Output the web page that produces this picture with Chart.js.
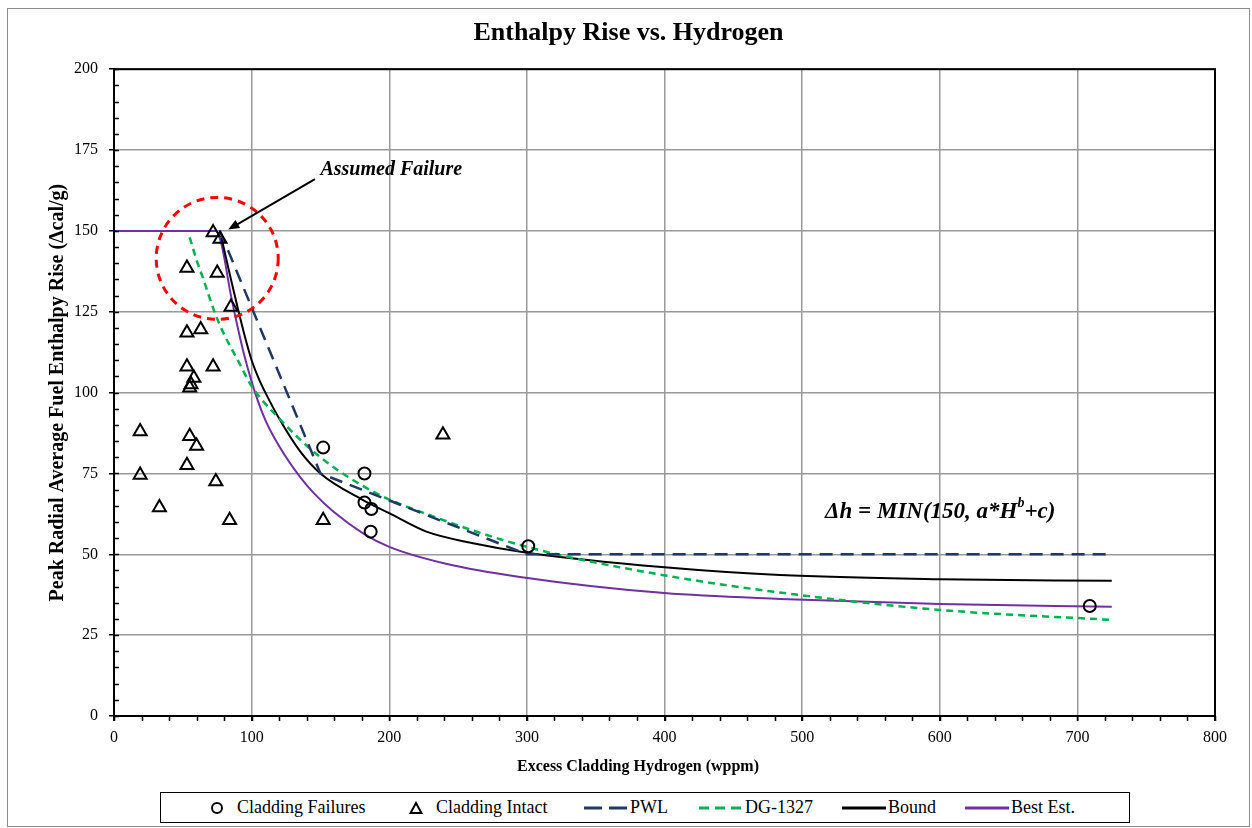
<!DOCTYPE html>
<html>
<head>
<meta charset="utf-8">
<title>Enthalpy Rise vs. Hydrogen</title>
<script src="https://cdn.jsdelivr.net/npm/chart.js@4.4.1/dist/chart.umd.min.js"></script>
<style>
  html, body { margin: 0; padding: 0; background: #fff; }
  #wrap { position: relative; width: 1252px; height: 828px; }
  #frame { position: absolute; left: 7px; top: 8px; width: 1241px; height: 817px; border: 1px solid #8c8c8c; pointer-events: none; }
  #legend { position: absolute; left: 160px; top: 792px; width: 968px; height: 29px; border: 1px solid #000; background: #fff;
            font: 18px 'Liberation Serif', 'Times New Roman', serif; color: #000; }
  #legend .item { position: absolute; top: 0; height: 29px; display: flex; align-items: center; white-space: nowrap; }
</style>
</head>
<body>
<div id="wrap">
  <canvas id="enthalpyChart"></canvas>
  <div id="frame"></div>
  <div id="legend"></div>
</div>
<script>
// Cladding failures (circles)
const failX = [152, 182, 182, 187, 186.5, 301, 709];
const failY = [83, 75, 66, 64, 57, 52.5, 34];

// Cladding intact (triangles)
const intactX = [72, 77, 53, 75, 85, 53, 63, 53, 72, 58, 56, 55, 19, 55, 60, 53, 19, 74, 33, 84, 152, 239];
const intactY = [149.5, 147.5, 138.5, 137, 126.5, 118.5, 119.5, 108, 108, 104.5, 102.5, 101.5, 88, 86.5, 83.5, 77.5, 74.5, 72.5, 64.5, 60.5, 60.5, 87];

// PWL
const pwlX = [77, 150, 300, 725];
const pwlY = [150, 75, 50, 50];

// DG-1327
const dgX = [55, 60, 65, 73, 80, 90, 100, 120, 150, 190, 230, 300, 400, 500, 600, 725];
const dgY = [148, 141, 135, 125, 118, 110, 102, 92, 80, 69, 62, 52.3, 43.5, 37.3, 32.8, 29.7];

// Bound
const boundX = [78, 85, 90, 95, 100, 105, 110, 120, 135, 150, 180, 200, 227, 260, 300, 400, 484, 600, 725];
const boundY = [148, 135, 126, 117.5, 110, 104.5, 100, 92, 82, 75, 67, 62.7, 57, 53.5, 50.5, 46, 43.6, 42.3, 41.8];

// Best estimate
const bestX = [0, 74, 78, 85, 90, 95, 102.5, 110, 120.6, 135, 145, 160, 181, 200, 242, 295, 400, 484, 600, 725];
const bestY = [150, 150, 146, 130, 120, 111, 100, 91.5, 83, 74, 69, 63, 56.5, 52.3, 47, 43, 38, 36.2, 34.6, 33.8];

const xTicks = [0, 100, 200, 300, 400, 500, 600, 700, 800];
const yTicks = [0, 25, 50, 75, 100, 125, 150, 175, 200];

const toPoints = (xs, ys) => xs.map((x, i) => ({ x: x, y: ys[i] }));

const SERIF = "'Liberation Serif', 'Times New Roman', serif";
Chart.defaults.font.family = SERIF;
Chart.defaults.color = '#000';

// minor ticks, plot border, x title and annotations
const extrasPlugin = {
    id: 'extras',
    afterDatasetsDraw(chart) {
        const { ctx, chartArea: a, scales: { x, y } } = chart;
        ctx.save();

        // minor ticks
        ctx.strokeStyle = '#000';
        ctx.lineWidth = 1.5;
        ctx.beginPath();
        for (let v = 0; v <= 200; v += 5) {
            const py = Math.round(y.getPixelForValue(v)) + 0.5;
            ctx.moveTo(a.left, py);
            ctx.lineTo(a.left + 5, py);
        }
        for (let v = 0; v <= 800; v += 20) {
            const px = Math.round(x.getPixelForValue(v)) + 0.5;
            ctx.moveTo(px, a.bottom);
            ctx.lineTo(px, a.bottom + 5);
        }
        ctx.stroke();

        // plot border
        ctx.lineWidth = 2;
        ctx.strokeRect(a.left, a.top, a.right - a.left, a.bottom - a.top);

        // x axis title, centred on the whole chart like the original
        ctx.fillStyle = '#000';
        ctx.textAlign = 'center';
        ctx.textBaseline = 'middle';
        ctx.font = "bold 16px " + SERIF;
        ctx.fillText('Excess Cladding Hydrogen (wppm)', 638, a.bottom + 51);

        // red dashed circle around assumed failure
        ctx.strokeStyle = '#ff0000';
        ctx.lineWidth = 3;
        ctx.setLineDash([8, 6]);
        ctx.beginPath();
        ctx.arc(x.getPixelForValue(75), y.getPixelForValue(141.5), 61, 0, Math.PI * 2);
        ctx.stroke();
        ctx.setLineDash([]);

        // arrow
        const x0 = x.getPixelForValue(146), y0 = y.getPixelForValue(166);
        const x1 = x.getPixelForValue(83), y1 = y.getPixelForValue(150.4);
        const ang = Math.atan2(y1 - y0, x1 - x0);
        ctx.strokeStyle = '#000';
        ctx.lineWidth = 2;
        ctx.beginPath();
        ctx.moveTo(x0, y0);
        ctx.lineTo(x1 - Math.cos(ang) * 6, y1 - Math.sin(ang) * 6);
        ctx.stroke();
        ctx.beginPath();
        ctx.moveTo(x1, y1);
        ctx.lineTo(x1 - Math.cos(ang - 0.4) * 12, y1 - Math.sin(ang - 0.4) * 12);
        ctx.lineTo(x1 - Math.cos(ang + 0.4) * 12, y1 - Math.sin(ang + 0.4) * 12);
        ctx.closePath();
        ctx.fill();

        // texts
        ctx.textAlign = 'left';
        ctx.font = "italic bold 20px " + SERIF;
        ctx.fillText('Assumed Failure', x.getPixelForValue(150), y.getPixelForValue(169));

        let tx = x.getPixelForValue(516.7);
        const ty = y.getPixelForValue(63.2);
        const part1 = 'Δh = MIN(150, a*H';
        ctx.font = "italic bold 23px " + SERIF;
        ctx.fillText(part1, tx, ty);
        tx += ctx.measureText(part1).width;
        ctx.font = "italic bold 14px " + SERIF;
        ctx.fillText('b', tx, ty - 8);
        tx += ctx.measureText('b').width;
        ctx.font = "italic bold 23px " + SERIF;
        ctx.fillText('+c)', tx, ty);

        ctx.restore();
    }
};

const ctx = document.getElementById('enthalpyChart').getContext('2d');
const chart = new Chart(ctx, {
    type: 'scatter',
    data: {
        datasets: [
            {
                label: 'Cladding Failures',
                data: toPoints(failX, failY),
                pointStyle: 'circle',
                pointRadius: 6,
                pointBorderWidth: 2,
                borderColor: '#000',
                backgroundColor: 'rgba(0,0,0,0)',
                legendMarker: 'circle'
            },
            {
                label: 'Cladding Intact',
                data: toPoints(intactX, intactY),
                pointStyle: 'triangle',
                pointRadius: 7.5,
                pointBorderWidth: 2,
                borderColor: '#000',
                backgroundColor: 'rgba(0,0,0,0)',
                legendMarker: 'triangle'
            },
            {
                label: 'PWL',
                data: toPoints(pwlX, pwlY),
                showLine: true,
                pointRadius: 0,
                borderColor: '#1f3864',
                borderWidth: 2.5,
                borderDash: [13, 8],
                legendDash: [18, 7],
                tension: 0
            },
            {
                label: 'DG-1327',
                data: toPoints(dgX, dgY),
                showLine: true,
                pointRadius: 0,
                borderColor: '#00b050',
                borderWidth: 2.5,
                borderDash: [7, 5],
                legendDash: [10, 6],
                cubicInterpolationMode: 'monotone'
            },
            {
                label: 'Bound',
                data: toPoints(boundX, boundY),
                showLine: true,
                pointRadius: 0,
                borderColor: '#000',
                borderWidth: 2,
                cubicInterpolationMode: 'monotone'
            },
            {
                label: 'Best Est.',
                data: toPoints(bestX, bestY),
                showLine: true,
                pointRadius: 0,
                borderColor: '#7030a0',
                borderWidth: 2,
                cubicInterpolationMode: 'monotone'
            }
        ]
    },
    options: {
        responsive: true,
        maintainAspectRatio: false,
        animation: false,
        layout: { padding: { left: 42, right: 37, top: 0, bottom: 47 } },
        plugins: {
            legend: { display: false },
            tooltip: { enabled: false },
            title: {
                display: true,
                text: 'Enthalpy Rise vs. Hydrogen',
                color: '#000',
                font: { size: 26, weight: 'bold', family: SERIF },
                padding: { top: 18, bottom: 20 }
            }
        },
        scales: {
            x: {
                type: 'linear',
                min: 0,
                max: 800,
                afterBuildTicks: s => { s.ticks = xTicks.map(v => ({ value: v })); },
                afterFit: s => { s.height = 65; },
                ticks: { font: { size: 16 }, color: '#000', padding: 7, maxRotation: 0 },
                grid: { color: '#9a9a9a', lineWidth: 1.5, tickColor: '#000', tickLength: 5, tickWidth: 1.5 },
                border: { color: '#000', width: 2 },
                title: { display: false }
            },
            y: {
                type: 'linear',
                min: 0,
                max: 200,
                afterBuildTicks: s => { s.ticks = yTicks.map(v => ({ value: v })); },
                afterFit: s => { s.width = 72; },
                ticks: { font: { size: 16 }, color: '#000', padding: 11 },
                grid: { color: '#9a9a9a', lineWidth: 1.5, tickColor: '#000', tickLength: 5, tickWidth: 1.5 },
                border: { color: '#000', width: 2 },
                title: {
                    display: true,
                    text: 'Peak Radial Average Fuel Enthalpy Rise (Δcal/g)',
                    font: { size: 20, weight: 'bold' },
                    color: '#000'
                }
            }
        }
    },
    plugins: [extrasPlugin]
});

// HTML legend built from the datasets
const legendLeft = [49, 248, 423, 538, 681, 804];
const legendEl = document.getElementById('legend');
chart.data.datasets.forEach((ds, i) => {
    let svg;
    if (ds.legendMarker === 'circle') {
        svg = '<svg width="14" height="14" style="margin-right:13px"><circle cx="7" cy="7" r="5" fill="none" stroke="#000" stroke-width="2"/></svg>';
    } else if (ds.legendMarker === 'triangle') {
        svg = '<svg width="14" height="14" style="margin-right:13px"><polygon points="7,2 12.5,12 1.5,12" fill="none" stroke="#000" stroke-width="2"/></svg>';
    } else {
        const dash = ds.legendDash ? ds.legendDash.join(',') : 'none';
        svg = '<svg width="44" height="6" style="margin-right:2px"><line x1="0" y1="3" x2="44" y2="3" stroke="' + ds.borderColor +
              '" stroke-width="3" stroke-dasharray="' + dash + '"/></svg>';
    }
    const item = document.createElement('div');
    item.className = 'item';
    item.style.left = legendLeft[i] + 'px';
    item.innerHTML = svg + '<span>' + ds.label + '</span>';
    legendEl.appendChild(item);
});
</script>
</body>
</html>
